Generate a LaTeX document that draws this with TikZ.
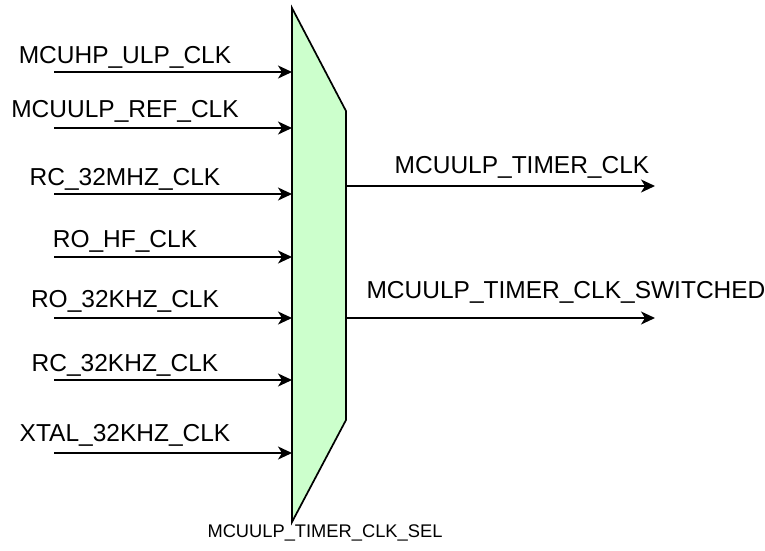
\documentclass[tikz,border=0pt]{standalone}
\usepackage{fontspec}
\setmainfont{Liberation Sans}
\usetikzlibrary{arrows.meta}
\definecolor{muxfill}{HTML}{CCFFCC}
\tikzset{
  sig/.style={line width=1.7pt, -{Stealth[length=14pt,width=13pt,inset=4pt]}},
  inlbl/.style={anchor=base, inner sep=0pt, font=\fontsize{24.5}{28}\selectfont},
  sellbl/.style={anchor=base, inner sep=0pt, font=\fontsize{18.3}{21}\selectfont},
}
\begin{document}
\begin{tikzpicture}[x=1pt,y=-1pt]
\useasboundingbox (0,0) rectangle (765,550);
% mux
\coordinate (mtl) at (292,8);
\coordinate (mtr) at (346,111);
\coordinate (mbr) at (346,420);
\coordinate (mbl) at (292,522);
\draw[line width=1.7pt, fill=muxfill, line join=miter] (mtl) -- (mtr) -- (mbr) -- (mbl) -- cycle;
% inputs
\foreach \n/\y/\b/\t in {a/72/63/MCUHP\_ULP\_CLK, b/128/117/MCUULP\_REF\_CLK, c/194/185/RC\_32MHZ\_CLK, d/257/247/RO\_HF\_CLK, e/318/307/RO\_32KHZ\_CLK, f/380/371/RC\_32KHZ\_CLK, g/453/441/XTAL\_32KHZ\_CLK}{
  \coordinate (s\n) at (54,\y);
  \coordinate (d\n) at (292,\y);
  \draw[sig] (s\n) -- (d\n);
  \node[inlbl] (l\n) at (125,\b) {\t};
}
% outputs
\coordinate (o1s) at (346,186);
\coordinate (o1e) at (655,186);
\coordinate (o2s) at (346,318);
\coordinate (o2e) at (655,318);
\draw[sig] (o1s) -- (o1e);
\draw[sig] (o2s) -- (o2e);
\node[inlbl] (lo1) at (522,173) {MCUULP\_TIMER\_CLK};
\node[inlbl] (lo2) at (566,298) {MCUULP\_TIMER\_CLK\_SWITCHED};
\node[sellbl] (lsel) at (325,537) {MCUULP\_TIMER\_CLK\_SEL};
\end{tikzpicture}
\end{document}
